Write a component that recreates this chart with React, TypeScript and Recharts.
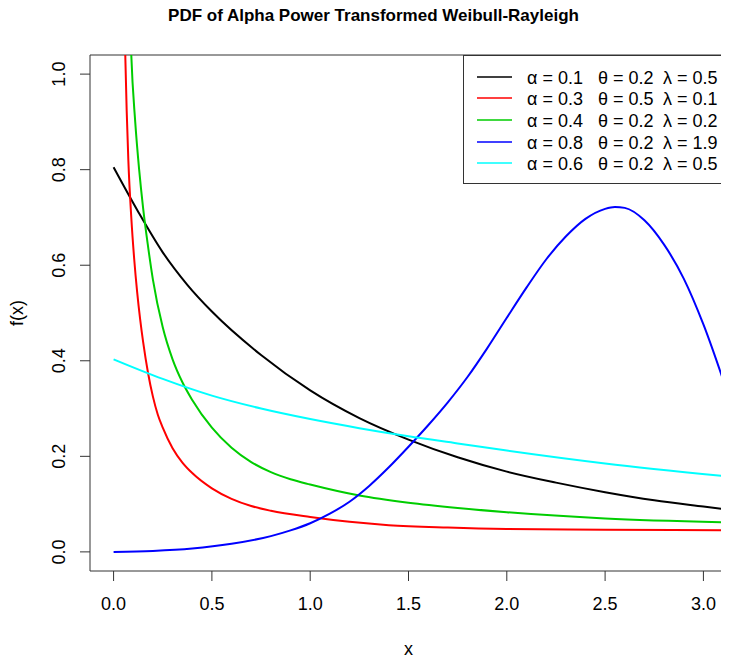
import React from "react";
import { LineChart, Line, XAxis, YAxis, ReferenceArea, Legend, Label } from "recharts";

const FONT = "'Liberation Sans', Arial, sans-serif";

// Axis ticks
const X_TICKS = [0, 0.5, 1.0, 1.5, 2.0, 2.5, 3.0];
const Y_TICKS = [0, 0.2, 0.4, 0.6, 0.8, 1.0];
const X_DOMAIN: [number, number] = [-0.12, 3.12];
const Y_DOMAIN: [number, number] = [-0.04, 1.04];

// Series: alpha=0.1, theta=0.2, lambda=0.5
const blackX = [0, 0.125, 0.25, 0.375, 0.5, 0.75, 1.0, 1.25, 1.5, 1.75, 2.0, 2.25, 2.5, 2.75, 3.0, 3.12];
const blackY = [0.805, 0.712, 0.627, 0.559, 0.503, 0.412, 0.338, 0.280, 0.235, 0.198, 0.168, 0.145, 0.125, 0.108, 0.095, 0.089];

// Series: alpha=0.3, theta=0.5, lambda=0.1
const redX = [0.03, 0.045, 0.06, 0.075, 0.09, 0.105, 0.12, 0.135, 0.15, 0.175, 0.2, 0.225, 0.25, 0.3, 0.35, 0.4, 0.5, 0.6, 0.7, 0.8, 1.0, 1.2, 1.4, 1.7, 2.0, 2.5, 3.12];
const redY = [2.1, 1.4, 1.03, 0.82, 0.70, 0.612, 0.543, 0.487, 0.44, 0.375, 0.325, 0.287, 0.26, 0.217, 0.187, 0.165, 0.133, 0.111, 0.096, 0.086, 0.073, 0.063, 0.056, 0.051, 0.048, 0.0465, 0.045];

// Series: alpha=0.4, theta=0.2, lambda=0.2
const greenX = [0.05, 0.07, 0.09, 0.11, 0.13, 0.15, 0.175, 0.2, 0.25, 0.3, 0.35, 0.4, 0.5, 0.6, 0.7, 0.8, 0.9, 1.0, 1.25, 1.5, 1.75, 2.0, 2.5, 3.12];
const greenY = [1.9, 1.35, 1.04, 0.90, 0.80, 0.72, 0.64, 0.57, 0.47, 0.403, 0.355, 0.318, 0.260, 0.218, 0.188, 0.167, 0.152, 0.141, 0.118, 0.103, 0.092, 0.083, 0.070, 0.062];

// Series: alpha=0.8, theta=0.2, lambda=1.9
const blueX = [0, 0.2, 0.4, 0.6, 0.8, 0.9, 1.0, 1.1, 1.2, 1.3, 1.4, 1.5, 1.6, 1.7, 1.8, 1.9, 2.0, 2.1, 2.2, 2.3, 2.4, 2.5, 2.55, 2.6, 2.7, 2.8, 2.9, 3.0, 3.12];
const blueY = [0, 0.002, 0.007, 0.017, 0.033, 0.045, 0.060, 0.080, 0.105, 0.138, 0.177, 0.220, 0.265, 0.313, 0.366, 0.426, 0.490, 0.553, 0.612, 0.660, 0.697, 0.718, 0.722, 0.720, 0.694, 0.643, 0.572, 0.476, 0.336];

// Series: alpha=0.6, theta=0.2, lambda=0.5
const cyanX = [0, 0.25, 0.5, 0.75, 1.0, 1.25, 1.5, 1.75, 2.0, 2.5, 3.12];
const cyanY = [0.403, 0.362, 0.327, 0.300, 0.278, 0.259, 0.242, 0.227, 0.212, 0.185, 0.158];

// Legend parameters
const COLORS = ["#000000", "#FF0000", "#00CD00", "#0000FF", "#00FFFF"];
const ALPHAS = ["0.1", "0.3", "0.4", "0.8", "0.6"];
const THETAS = ["0.2", "0.5", "0.2", "0.2", "0.2"];
const LAMBDAS = ["0.5", "0.1", "0.2", "1.9", "0.5"];

const zip = (xs: number[], ys: number[]) => xs.map((x, i) => ({ x, y: ys[i] }));

const SERIES = [
  { key: "black", data: zip(blackX, blackY) },
  { key: "red", data: zip(redX, redY) },
  { key: "green", data: zip(greenX, greenY) },
  { key: "blue", data: zip(blueX, blueY) },
  { key: "cyan", data: zip(cyanX, cyanY) },
];

const YTick = (props: any) => {
  const { x, y, payload } = props;
  return (
    <text
      x={x}
      y={y}
      transform={`rotate(-90 ${x} ${y})`}
      textAnchor="middle"
      fontSize={18}
      fontFamily={FONT}
      fill="#000"
    >
      {Number(payload.value).toFixed(1)}
    </text>
  );
};

const XTitle = (props: any) => {
  const vb = props.viewBox || { x: 82, y: 563, width: 637, height: 89 };
  return (
    <text x={vb.x + vb.width / 2} y={647} textAnchor="middle" fontSize={18} fontFamily={FONT} fill="#000">
      x
    </text>
  );
};

const YTitle = (props: any) => {
  const vb = props.viewBox || { x: 0, y: 47, width: 82, height: 516 };
  const cx = 15;
  const cy = vb.y + vb.height / 2;
  return (
    <text
      x={cx}
      y={cy}
      transform={`rotate(-90 ${cx} ${cy})`}
      textAnchor="middle"
      fontSize={18}
      fontFamily={FONT}
      fill="#000"
    >
      f(x)
    </text>
  );
};

const LegendBox = () => {
  const w = 264;
  const h = 129;
  const rows = [22, 43, 65, 87, 108];
  return (
    <svg width={w} height={h} style={{ display: "block" }}>
      <rect x={0.5} y={0.5} width={w - 1} height={h - 1} fill="#fff" stroke="#333" strokeWidth={1} />
      {rows.map((ry, i) => (
        <g key={i}>
          <line x1={14} x2={49} y1={ry} y2={ry} stroke={COLORS[i]} strokeWidth={1.5} />
          <text x={64} y={ry + 6.5} fontSize={18} fontFamily={FONT} fill="#000">
            {`α = ${ALPHAS[i]}`}
          </text>
          <text x={135} y={ry + 6.5} fontSize={18} fontFamily={FONT} fill="#000">
            {`θ = ${THETAS[i]}`}
          </text>
          <text x={200} y={ry + 6.5} fontSize={18} fontFamily={FONT} fill="#000">
            {`λ = ${LAMBDAS[i]}`}
          </text>
        </g>
      ))}
    </svg>
  );
};

export default function App() {
  return (
    <div style={{ position: "relative", width: 721, height: 652, fontFamily: FONT }}>
      <LineChart width={721} height={652} margin={{ top: 47, right: 2, left: 0, bottom: 0 }}>
        <XAxis
          type="number"
          dataKey="x"
          domain={X_DOMAIN}
          allowDataOverflow
          ticks={X_TICKS}
          interval={0}
          tickFormatter={(v: number) => v.toFixed(1)}
          height={89}
          tickSize={10}
          tickMargin={16}
          axisLine={false}
          tickLine={{ stroke: "#333", strokeWidth: 1 }}
          tick={{ fill: "#000", fontSize: 18, fontFamily: FONT }}
        >
          <Label content={XTitle} />
        </XAxis>
        <YAxis
          type="number"
          dataKey="y"
          domain={Y_DOMAIN}
          allowDataOverflow
          ticks={Y_TICKS}
          interval={0}
          width={82}
          tickSize={10}
          tickMargin={15}
          axisLine={false}
          tickLine={{ stroke: "#333", strokeWidth: 1 }}
          tick={YTick}
        >
          <Label content={YTitle} />
        </YAxis>
        {SERIES.map((s, i) => (
          <Line
            key={s.key}
            data={s.data}
            dataKey="y"
            type="monotone"
            stroke={COLORS[i]}
            strokeWidth={2}
            dot={false}
            activeDot={false}
            isAnimationActive={false}
          />
        ))}
        <ReferenceArea
          x1={X_DOMAIN[0]}
          x2={X_DOMAIN[1]}
          y1={Y_DOMAIN[0]}
          y2={Y_DOMAIN[1]}
          fill="none"
          fillOpacity={0}
          stroke="#333"
          strokeWidth={1}
          ifOverflow="visible"
        />
        <Legend
          layout="vertical"
          align="center"
          verticalAlign="middle"
          content={LegendBox}
          wrapperStyle={{ position: "absolute", left: 455, top: 47, width: 264, height: 129 }}
        />
      </LineChart>
      <svg
        width={729}
        height={44}
        style={{ position: "absolute", left: -8, top: -8, pointerEvents: "none" }}
      >
        <text x={373.5} y={21} textAnchor="middle" fontSize={17} fontWeight="bold" fontFamily={FONT} fill="#000">
          PDF of Alpha Power Transformed Weibull-Rayleigh
        </text>
      </svg>
    </div>
  );
}
